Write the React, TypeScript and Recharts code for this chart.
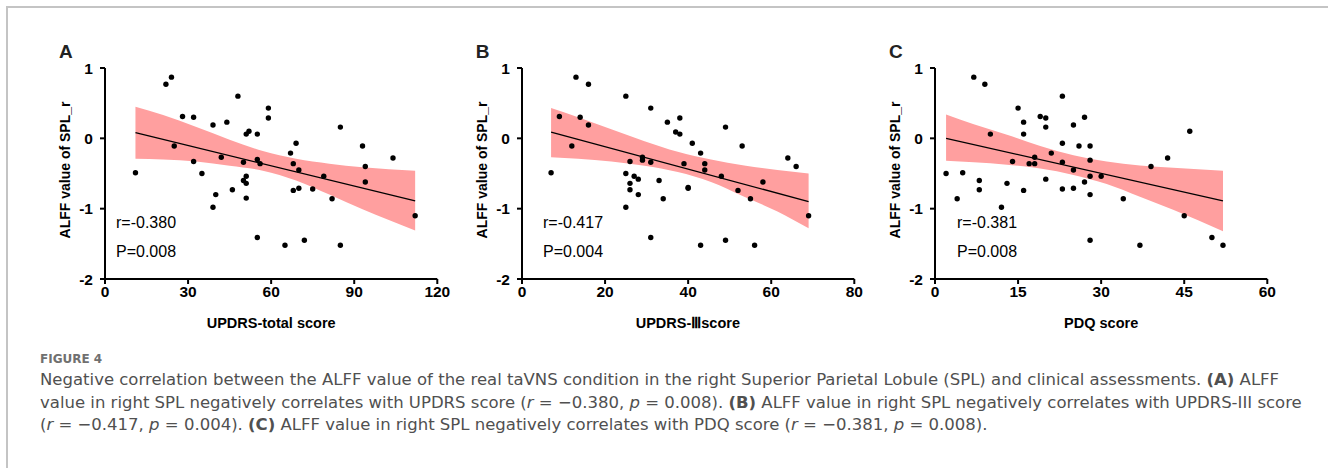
import React from 'react';
import { ComposedChart, Area, Line, Scatter, XAxis, YAxis } from 'recharts';

// panel A: UPDRS-total
const A_X = [11, 22, 24, 25, 28, 32, 32, 35, 39, 39, 40, 42, 44, 46, 48, 50, 50, 51, 51, 51, 51, 52, 55, 55, 56, 55, 59, 59, 65, 67, 68, 68, 69, 70, 70, 72, 75, 79, 82, 85, 85, 93, 94, 94, 104, 112];
const A_Y = [-0.49, 0.77, 0.87, -0.11, 0.31, 0.30, -0.33, -0.50, 0.19, -0.98, -0.80, -0.27, 0.23, -0.73, 0.60, -0.34, -0.60, 0.06, -0.54, -0.64, -0.85, 0.10, 0.06, -0.30, -0.36, -1.41, 0.43, 0.29, -1.52, -0.21, -0.36, -0.74, -0.07, -0.45, -0.71, -1.45, -0.72, -0.54, -0.86, 0.16, -1.52, -0.11, -0.40, -0.62, -0.28, -1.10];
const A_BAND_X = [11, 21, 33, 45, 57, 69, 81, 93, 112];
const A_BAND_HI = [0.45, 0.33, 0.16, -0.02, -0.18, -0.29, -0.36, -0.41, -0.46];
const A_BAND_LO = [-0.29, -0.30, -0.33, -0.39, -0.46, -0.60, -0.80, -1.01, -1.31];
const A_FIT_X = [11, 112];
const A_FIT_Y = [0.08, -0.89];
const A_TICKS = [0, 30, 60, 90, 120];

// panel B: UPDRS-III
const B_X = [7, 9, 12, 13, 14, 16, 16, 25, 25, 25, 26, 26, 26, 27, 28, 28, 29, 29, 31, 31, 31, 33, 34, 35, 37, 38, 38, 39, 40, 40, 41, 43, 43, 44, 44, 48, 49, 49, 52, 53, 55, 56, 58, 64, 66, 69];
const B_Y = [-0.49, 0.31, -0.11, 0.87, 0.30, 0.77, 0.19, 0.60, -0.50, -0.98, -0.33, -0.64, -0.73, -0.54, -0.58, -0.80, -0.27, -0.31, -0.34, 0.43, -1.41, -0.60, -0.86, 0.23, 0.09, 0.06, 0.29, -0.36, -0.71, -0.70, -0.07, -0.21, -1.52, -0.36, -0.45, -0.54, 0.16, -1.45, -0.74, -0.11, -0.86, -1.52, -0.62, -0.28, -0.40, -1.10];
const B_BAND_X = [7, 13.5, 21.5, 29.5, 37.5, 45.5, 53.5, 61.5, 69];
const B_BAND_HI = [0.43, 0.30, 0.13, -0.04, -0.19, -0.30, -0.385, -0.45, -0.50];
const B_BAND_LO = [-0.27, -0.29, -0.33, -0.39, -0.48, -0.62, -0.83, -1.04, -1.28];
const B_FIT_X = [7, 69];
const B_FIT_Y = [0.09, -0.90];
const B_TICKS = [0, 20, 40, 60, 80];

// panel C: PDQ
const C_X = [2, 4, 5, 7, 8, 8, 9, 10, 12, 13, 14, 15, 16, 16, 16, 17, 18, 18, 19, 20, 20, 20, 21, 23, 23, 23, 23, 25, 25, 25, 26, 27, 27, 28, 28, 28, 28, 28, 30, 34, 37, 39, 42, 45, 46, 50, 52];
const C_Y = [-0.50, -0.86, -0.49, 0.87, -0.60, -0.73, 0.77, 0.06, -0.98, -0.64, -0.33, 0.43, 0.23, 0.06, -0.74, -0.36, -0.27, -0.36, 0.31, 0.29, 0.16, -0.58, -0.21, 0.60, -0.07, -0.34, -0.72, 0.19, -0.45, -0.71, -0.11, 0.30, -0.62, -0.11, -0.31, -0.54, -0.80, -1.45, -0.54, -0.86, -1.52, -0.40, -0.28, -1.10, 0.10, -1.41, -1.52];
const C_BAND_X = [2, 7, 13, 19, 25, 31, 37, 43, 52];
const C_BAND_HI = [0.34, 0.20, 0.05, -0.11, -0.24, -0.33, -0.385, -0.42, -0.46];
const C_BAND_LO = [-0.32, -0.34, -0.375, -0.43, -0.52, -0.65, -0.83, -1.015, -1.32];
const C_FIT_X = [2, 52];
const C_FIT_Y = [0.0, -0.89];
const C_TICKS = [0, 15, 30, 45, 60];

const Y_TICKS = [-2, -1, 0, 1];

const PLOT_TOP = 68.3;
const PLOT_H = 211;
const PLOT_W = 332.3;
const Y_AXIS_W = 65;
const AXIS_FONT = '"Liberation Sans", Arial, sans-serif';
const CAPTION_FONT = '"DejaVu Sans", sans-serif';

const zip = (xs: number[], ys: number[]) => xs.map((x, i) => ({ x, y: ys[i] }));

const Dot = (props: any) => <circle cx={props.cx} cy={props.cy} r={2.7} fill="#000" />;

interface PanelProps {
  letter: string;
  plotLeft: number;
  xs: number[]; ys: number[];
  bandX: number[]; bandLo: number[]; bandHi: number[];
  fitX: number[]; fitY: number[];
  ticks: number[];
  xLabel: string;
  r: string; p: string;
  statLeft: number;
}

function Panel(props: PanelProps) {
  const { letter, plotLeft, xs, ys, bandX, bandLo, bandHi, fitX, fitY, ticks, xLabel, r, p, statLeft } = props;
  const points = zip(xs, ys);
  const band = bandX.map((x, i) => ({ x, range: [bandLo[i], bandHi[i]] }));
  const fit = zip(fitX, fitY);
  const tickStyle = { fill: '#000', fontSize: 15.5, fontWeight: 700, fontFamily: AXIS_FONT };
  const top = PLOT_TOP - 20;

  return (
    <>
      <div style={{ position: 'absolute', left: plotLeft - Y_AXIS_W, top }}>
        <ComposedChart
          width={Y_AXIS_W + PLOT_W + 20}
          height={20 + PLOT_H + 30}
          margin={{ top: 20, right: 20, bottom: 0, left: 0 }}
        >
          <XAxis
            type="number" dataKey="x" domain={[ticks[0], ticks[ticks.length - 1]]} ticks={ticks}
            axisLine={{ stroke: '#000', strokeWidth: 2 }} tickLine={{ stroke: '#000', strokeWidth: 2 }}
            tickSize={5} tickMargin={2} tick={tickStyle} height={30} interval={0}
          />
          <YAxis
            type="number" domain={[-2, 1]} ticks={Y_TICKS} width={Y_AXIS_W}
            axisLine={{ stroke: '#000', strokeWidth: 2 }} tickLine={{ stroke: '#000', strokeWidth: 2 }}
            tickSize={5} tickMargin={7} tick={tickStyle} interval={0}
          />
          <Area
            data={band} dataKey="range" type="monotone" stroke="none" fill="#ff9f9f" fillOpacity={1}
            isAnimationActive={false} activeDot={false}
          />
          <Line
            data={fit} dataKey="y" type="linear" stroke="#000" strokeWidth={1.3} dot={false}
            isAnimationActive={false} activeDot={false}
          />
          <Scatter data={points} dataKey="y" shape={<Dot />} isAnimationActive={false} />
        </ComposedChart>
      </div>

      <div style={{ position: 'absolute', left: plotLeft - 46, top: 41, fontFamily: AXIS_FONT, fontWeight: 700, fontSize: 19, lineHeight: '21px', color: '#222' }}>
        {letter}
      </div>
      <div style={{
        position: 'absolute', left: plotLeft - 40, top: 170, transform: 'translate(-50%, -50%) rotate(-90deg)',
        fontFamily: AXIS_FONT, fontWeight: 700, fontSize: 14, whiteSpace: 'nowrap', color: '#000',
      }}>
        ALFF value of SPL_r
      </div>
      <div style={{
        position: 'absolute', left: plotLeft + PLOT_W / 2, top: 323, transform: 'translate(-50%, -50%)',
        fontFamily: AXIS_FONT, fontWeight: 700, fontSize: 14.5, whiteSpace: 'nowrap', color: '#000',
      }}>
        {xLabel}
      </div>
      <div style={{ position: 'absolute', left: statLeft, top: 213, fontFamily: AXIS_FONT, fontSize: 16, lineHeight: '20px', color: '#000' }}>
        {r}
      </div>
      <div style={{ position: 'absolute', left: statLeft, top: 242, fontFamily: AXIS_FONT, fontSize: 16, lineHeight: '20px', color: '#000' }}>
        {p}
      </div>
    </>
  );
}

export default function App() {
  const lineStyle: React.CSSProperties = { whiteSpace: 'nowrap', height: 22.5, lineHeight: '22.5px' };
  return (
    <div style={{ position: 'absolute', left: 0, top: 0, width: 1328, height: 468, background: '#fff', overflow: 'hidden' }}>
      <div style={{ position: 'absolute', left: 6, top: 6, width: 1330, height: 470, borderLeft: '2px solid #c4c4c4', borderTop: '2px solid #c4c4c4' }} />

      <Panel
        letter="A" plotLeft={105} xs={A_X} ys={A_Y}
        bandX={A_BAND_X} bandLo={A_BAND_LO} bandHi={A_BAND_HI}
        fitX={A_FIT_X} fitY={A_FIT_Y} ticks={A_TICKS}
        xLabel="UPDRS-total score" r="r=-0.380" p="P=0.008" statLeft={116}
      />
      <Panel
        letter="B" plotLeft={521.7} xs={B_X} ys={B_Y}
        bandX={B_BAND_X} bandLo={B_BAND_LO} bandHi={B_BAND_HI}
        fitX={B_FIT_X} fitY={B_FIT_Y} ticks={B_TICKS}
        xLabel="UPDRS-Ⅲscore" r="r=-0.417" p="P=0.004" statLeft={543}
      />
      <Panel
        letter="C" plotLeft={935} xs={C_X} ys={C_Y}
        bandX={C_BAND_X} bandLo={C_BAND_LO} bandHi={C_BAND_HI}
        fitX={C_FIT_X} fitY={C_FIT_Y} ticks={C_TICKS}
        xLabel="PDQ score" r="r=-0.381" p="P=0.008" statLeft={957}
      />

      <div style={{ position: 'absolute', left: 40, top: 352, fontFamily: CAPTION_FONT, fontSize: 12, fontWeight: 700, lineHeight: '14px', color: '#707070' }}>
        FIGURE 4
      </div>
      <div style={{ position: 'absolute', left: 40, top: 369, fontFamily: CAPTION_FONT, fontSize: 16.5, color: '#505050' }}>
        <div style={lineStyle}>
          Negative correlation between the ALFF value of the real taVNS condition in the right Superior Parietal Lobule (SPL) and clinical assessments. <b>(A)</b> ALFF
        </div>
        <div style={lineStyle}>
          value in right SPL negatively correlates with UPDRS score (<i>r</i> = −0.380, <i>p</i> = 0.008). <b>(B)</b> ALFF value in right SPL negatively correlates with UPDRS-III score
        </div>
        <div style={lineStyle}>
          (<i>r</i> = −0.417, <i>p</i> = 0.004). <b>(C)</b> ALFF value in right SPL negatively correlates with PDQ score (<i>r</i> = −0.381, <i>p</i> = 0.008).
        </div>
      </div>
    </div>
  );
}
